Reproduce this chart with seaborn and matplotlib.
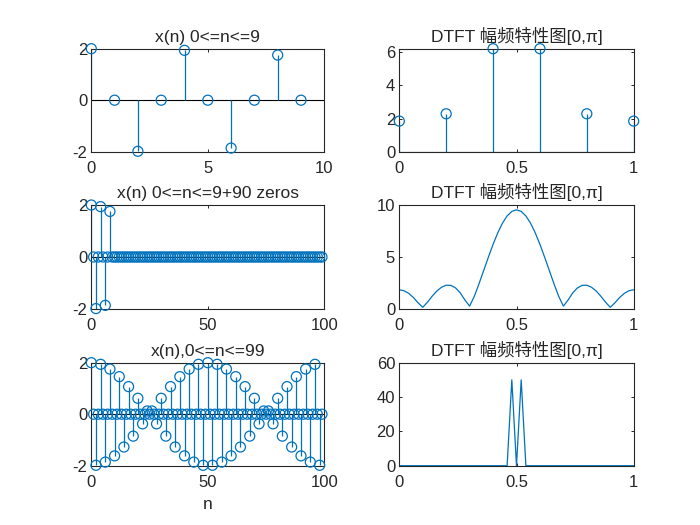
import numpy as np
import pandas as pd
import matplotlib
matplotlib.use("Agg")
import matplotlib.pyplot as plt
import seaborn as sns

sns.set_theme(style="white")
plt.rcParams['font.family'] = ['Liberation Sans', 'Noto Sans CJK SC', 'DejaVu Sans']

BLUE = '#0072BD'
AX_COL = '#262626'

# ---------------- data ----------------
# 10-point sequence x(n), 0<=n<=9
x10 = [2.0, 0.0, -1.9842, 0.0, 1.9372, 0.0, -1.8596, 0.0, 1.7526, 0.0]
# DTFT samples of the 10-point sequence on [0, pi]
w6 = [0.0, 0.2, 0.4, 0.6, 0.8, 1.0]
mag6 = [1.846, 2.287, 6.214, 6.214, 2.287, 1.846]

# 10-point sequence + 90 zeros
x_pad = x10 + [0.0] * 90
# DTFT magnitude of the zero-padded sequence on [0, pi] (51 samples)
mag_pad = [1.846, 1.759, 1.505, 1.106, 0.598, 0.163, 0.650, 1.225, 1.724, 2.093,
           2.287, 2.272, 2.029, 1.552, 0.859, 0.279, 1.220, 2.421, 3.700, 4.986,
           6.214, 7.321, 8.249, 8.950, 9.386, 9.534, 9.386, 8.950, 8.249, 7.321,
           6.214, 4.986, 3.700, 2.421, 1.220, 0.279, 0.859, 1.552, 2.029, 2.272,
           2.287, 2.093, 1.724, 1.225, 0.650, 0.163, 0.598, 1.106, 1.505, 1.759,
           1.846]

# 100-point sequence x(n), 0<=n<=99
x100 = [2.0, 0, -1.9842, 0, 1.9372, 0, -1.8596, 0, 1.7526, 0,
        -1.6180, 0, 1.4579, 0, -1.2748, 0, 1.0717, 0, -0.8516, 0,
        0.6180, 0, -0.3748, 0, 0.1256, 0, 0.1256, 0, -0.3748, 0,
        0.6180, 0, -0.8516, 0, 1.0717, 0, -1.2748, 0, 1.4579, 0,
        -1.6180, 0, 1.7526, 0, -1.8596, 0, 1.9372, 0, -1.9842, 0,
        2.0, 0, -1.9842, 0, 1.9372, 0, -1.8596, 0, 1.7526, 0,
        -1.6180, 0, 1.4579, 0, -1.2748, 0, 1.0717, 0, -0.8516, 0,
        0.6180, 0, -0.3748, 0, 0.1256, 0, 0.1256, 0, -0.3748, 0,
        0.6180, 0, -0.8516, 0, 1.0717, 0, -1.2748, 0, 1.4579, 0,
        -1.6180, 0, 1.7526, 0, -1.8596, 0, 1.9372, 0, -1.9842, 0]
# DTFT magnitude of the 100-point sequence on [0, pi] (51 samples)
mag100 = [0, 0, 0, 0, 0, 0, 0, 0, 0, 0,
          0, 0, 0, 0, 0, 0, 0, 0, 0, 0,
          0, 0, 0, 0, 50, 0, 50, 0, 0, 0,
          0, 0, 0, 0, 0, 0, 0, 0, 0, 0,
          0, 0, 0, 0, 0, 0, 0, 0, 0, 0,
          0]

titles_left = ['x(n) 0<=n<=9', 'x(n) 0<=n<=9+90 zeros', 'x(n),0<=n<=99']
title_right = 'DTFT 幅频特性图[0,π]'

# ---------------- figure ----------------
fig = plt.figure(figsize=(7, 5.25), dpi=100)
W, H = 700, 525
lefts = [91.3, 399.3]
widths = [233.0, 234.4]
rows = [(48.7, 151.7), (205.0, 309.0), (362.7, 465.7)]


def make_ax(r, c):
    top, bot = rows[r]
    return fig.add_axes([lefts[c] / W, 1 - bot / H, widths[c] / W, (bot - top) / H])


def style(ax, xt, xtl, yt, ytl, xlim, ylim):
    ax.set_xlim(*xlim)
    ax.set_ylim(*ylim)
    ax.set_xticks(xt)
    ax.set_xticklabels(xtl)
    ax.set_yticks(yt)
    ax.set_yticklabels(ytl)
    ax.tick_params(direction='in', length=2.5, width=0.7, colors=AX_COL,
                   labelsize=12, top=True, right=True, bottom=True, left=True)
    ax.tick_params(axis='x', pad=6.5)
    ax.tick_params(axis='y', pad=3)
    for s in ax.spines.values():
        s.set_visible(True)
        s.set_color(AX_COL)
        s.set_linewidth(0.8)
    ax.grid(False)
    ax.set_facecolor('white')


def stem(ax, n, y):
    df = pd.DataFrame({'n': n, 'y': y})
    ax.axhline(0, color='black', lw=0.8, zorder=1)
    ax.vlines(df['n'], 0, df['y'], color=BLUE, lw=0.9, zorder=2)
    sns.scatterplot(data=df, x='n', y='y', ax=ax, marker='o', s=52,
                    facecolor='none', edgecolor=BLUE, linewidth=0.9,
                    zorder=3, clip_on=False, legend=False)
    ax.set_xlabel('')
    ax.set_ylabel('')


def curve(ax, w, m):
    df = pd.DataFrame({'w': w, 'm': m})
    sns.lineplot(data=df, x='w', y='m', ax=ax, color=BLUE, lw=0.9,
                 estimator=None, sort=False)
    ax.set_xlabel('')
    ax.set_ylabel('')


# row 1
ax = make_ax(0, 0)
stem(ax, np.arange(len(x10)), x10)
style(ax, [0, 5, 10], ['0', '5', '10'], [-2, 0, 2], ['-2', '0', '2'], (0, 10), (-2, 2))
ax.set_title(titles_left[0], fontsize=12.5, pad=5)

ax = make_ax(0, 1)
stem(ax, w6, mag6)
style(ax, [0, 0.5, 1], ['0', '0.5', '1'], [0, 2, 4, 6], ['0', '2', '4', '6'], (0, 1), (0, max(mag6)))
ax.set_title(title_right, fontsize=12.5, pad=5)

# row 2
ax = make_ax(1, 0)
stem(ax, np.arange(len(x_pad)), x_pad)
style(ax, [0, 50, 100], ['0', '50', '100'], [-2, 0, 2], ['-2', '0', '2'], (0, 100), (-2, 2))
ax.set_title(titles_left[1], fontsize=12.5, pad=5)

ax = make_ax(1, 1)
curve(ax, np.linspace(0, 1, len(mag_pad)), mag_pad)
style(ax, [0, 0.5, 1], ['0', '0.5', '1'], [0, 5, 10], ['0', '5', '10'], (0, 1), (0, 10))
ax.set_title(title_right, fontsize=12.5, pad=5)

# row 3
ax = make_ax(2, 0)
stem(ax, np.arange(len(x100)), x100)
style(ax, [0, 50, 100], ['0', '50', '100'], [-2, 0, 2], ['-2', '0', '2'], (0, 100), (-2, 2))
ax.set_title(titles_left[2], fontsize=12.5, pad=5)
ax.set_xlabel('n', fontsize=12.5, color=AX_COL, labelpad=5)

ax = make_ax(2, 1)
curve(ax, np.linspace(0, 1, len(mag100)), mag100)
style(ax, [0, 0.5, 1], ['0', '0.5', '1'], [0, 20, 40, 60], ['0', '20', '40', '60'], (0, 1), (0, 60))
ax.set_title(title_right, fontsize=12.5, pad=5)

fig.savefig('out.png', dpi=100, facecolor='white')
